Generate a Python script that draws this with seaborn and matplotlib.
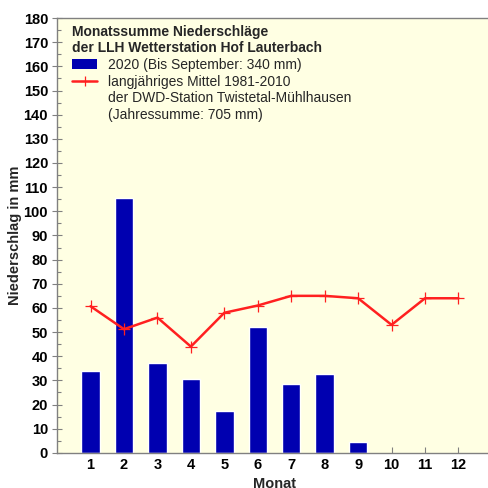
import matplotlib
matplotlib.use("Agg")
import matplotlib.pyplot as plt
import seaborn as sns
import pandas as pd
from matplotlib.patches import Patch
from matplotlib.lines import Line2D
from matplotlib.ticker import MultipleLocator

# ? Daten
monate = [1, 2, 3, 4, 5, 6, 7, 8, 9, 10, 11, 12]
monate_2020 = [1, 2, 3, 4, 5, 6, 7, 8, 9]
niederschlag_2020 = [34, 105.5, 37, 30.5, 17.5, 52, 28.5, 32.5, 4.5]
mittel_1981_2010 = [60.7, 51.2, 56, 44, 58, 61, 65, 65, 64, 53, 64, 64]

legend_title = "Monatssumme Niederschläge\nder LLH Wetterstation Hof Lauterbach"
legend_labels = [
    "2020 (Bis September: 340 mm)",
    "langjähriges Mittel 1981-2010",
    "der DWD-Station Twistetal-Mühlhausen",
    "(Jahressumme: 705 mm)",
]

bg = "#FFFFE3"
blau = "#0000B0"
rot = "#FF2020"

sns.set_style("ticks")
plt.rcParams["font.family"] = ["Liberation Sans", "DejaVu Sans"]

df_bar = pd.DataFrame({"Monat": monate_2020, "mm": niederschlag_2020})
df_line = pd.DataFrame({"Monat": monate, "mm": mittel_1981_2010})

fig = plt.figure(figsize=(4.88, 4.88), dpi=100)
ax = fig.add_axes([0.117, 0.072, 0.891, 0.891])
ax.set_facecolor(bg)

sns.barplot(data=df_bar, x="Monat", y="mm", native_scale=True, width=0.55,
            color=blau, saturation=1, ax=ax, zorder=2)

sns.lineplot(data=df_line, x="Monat", y="mm", color=rot, lw=1.8, ax=ax, zorder=3,
             marker="+", markersize=8, markeredgewidth=0.9, markeredgecolor=rot)

ax.set_xlim(0, 13)
ax.set_ylim(0, 180)
ax.set_xticks(monate)
ax.yaxis.set_major_locator(MultipleLocator(10))
ax.yaxis.set_minor_locator(MultipleLocator(5))
ax.tick_params(axis="y", which="major", direction="inout", length=7, width=0.8,
               colors="#808080", labelcolor="black", labelsize=10.5, pad=3)
ax.tick_params(axis="y", which="minor", direction="in", length=3, width=0.8, colors="#808080")
ax.tick_params(axis="x", direction="in", length=4, width=0.8, colors="#808080",
               labelcolor="black", labelsize=10.5, pad=4)
for lab in ax.get_xticklabels() + ax.get_yticklabels():
    lab.set_fontweight("bold")

for s in ax.spines.values():
    s.set_color("#808080")
    s.set_linewidth(1)

ax.set_xlabel("Monat", fontsize=10.5, fontweight="bold", labelpad=3)
ax.set_ylabel("Niederschlag in mm", fontsize=10.5, fontweight="bold", labelpad=1)

leer = Line2D([], [], color="none")
handles = [
    Patch(facecolor=blau, edgecolor="none"),
    Line2D([], [], color=rot, lw=1.8, marker="+", ms=7, mew=0.9),
    leer,
    leer,
]
leg = ax.legend(handles, legend_labels, title=legend_title, loc="upper left",
                frameon=False, fontsize=10, handlelength=1.8, handletextpad=0.8,
                borderaxespad=0, labelspacing=0.2, bbox_to_anchor=(0.022, 0.997))
leg.get_title().set_fontweight("bold")
leg.get_title().set_fontsize(10)
leg._legend_box.align = "left"

fig.savefig("out.png", dpi=100, facecolor="white")
